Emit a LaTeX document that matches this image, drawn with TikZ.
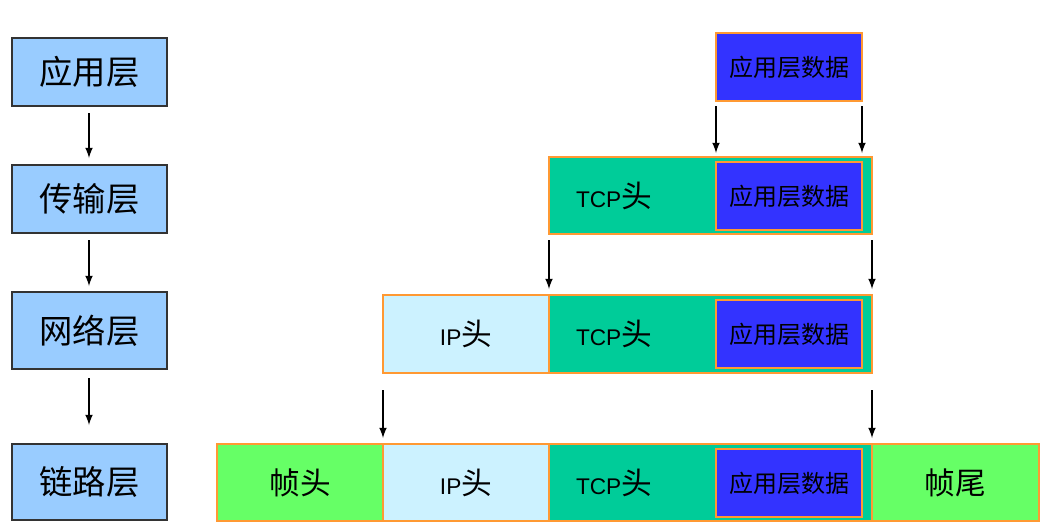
\documentclass[tikz,border=0pt]{standalone}
\usepackage{fontspec}
\setmainfont{Liberation Sans}
\newfontfamily\cjk{Noto Sans CJK SC}
\begin{document}
\begin{tikzpicture}[x=0.75pt,y=-0.75pt,
  layer/.style={draw=black!80,fill={rgb,255:red,153;green,204;blue,255},line width=0.8pt,font=\cjk\fontsize{25}{27}\selectfont},
  seg/.style={draw={rgb,255:red,255;green,153;blue,51},line width=0.8pt,font=\fontsize{17}{20}\selectfont},
  arr/.style={-latex,line width=1.6pt}]
\useasboundingbox (0,0) rectangle (1058,529);
\definecolor{appb}{RGB}{51,51,255}
\definecolor{tcpg}{RGB}{0,204,153}
\definecolor{ipc}{RGB}{204,242,255}
\definecolor{frg}{RGB}{102,255,102}
% left layers
\node[layer,minimum width=155*0.75pt,minimum height=68*0.75pt] (L1) at (89.5,72) {应用层};
\node[layer,minimum width=155*0.75pt,minimum height=68*0.75pt] (L2) at (89.5,199) {传输层};
\node[layer,minimum width=155*0.75pt,minimum height=77*0.75pt] (L3) at (89.5,330.5) {网络层};
\node[layer,minimum width=155*0.75pt,minimum height=76*0.75pt] (L4) at (89.5,482) {链路层};
\draw[arr] (89,113) -- (89,158);
\draw[arr] (89,240) -- (89,286);
\draw[arr] (89,378) -- (89,425);
% row 1
\node[seg,fill=appb,minimum width=146*0.75pt,minimum height=68*0.75pt,font=\cjk\fontsize{18}{20}\selectfont] (A1) at (789,67) {应用层数据};
% row 2
\node[seg,fill=tcpg,minimum width=323*0.75pt,minimum height=77*0.75pt] (T2) at (710.5,195.5) {};
\node[seg,fill=appb,minimum width=146*0.75pt,minimum height=68*0.75pt,font=\cjk\fontsize{18}{20}\selectfont] (A2) at (789,196) {应用层数据};
\node at (614,196) {\fontsize{17}{20}\selectfont TCP\cjk\fontsize{23}{25}\selectfont 头};
% row 3
\node[seg,fill=ipc,minimum width=166*0.75pt,minimum height=78*0.75pt] (I3) at (466,334) {};
\node[seg,fill=tcpg,minimum width=323*0.75pt,minimum height=78*0.75pt] (T3) at (710.5,334) {};
\node[seg,fill=appb,minimum width=146*0.75pt,minimum height=68*0.75pt,font=\cjk\fontsize{18}{20}\selectfont] (A3) at (789,334) {应用层数据};
\node at (466,334) {\fontsize{17}{20}\selectfont IP\cjk\fontsize{23}{25}\selectfont 头};
\node at (614,334) {\fontsize{17}{20}\selectfont TCP\cjk\fontsize{23}{25}\selectfont 头};
% row 4
\node[seg,fill=frg,minimum width=166*0.75pt,minimum height=77*0.75pt,font=\cjk\fontsize{23}{25}\selectfont] (F4) at (300,482.5) {帧头};
\node[seg,fill=ipc,minimum width=166*0.75pt,minimum height=77*0.75pt] (I4) at (466,482.5) {};
\node[seg,fill=tcpg,minimum width=323*0.75pt,minimum height=77*0.75pt] (T4) at (710.5,482.5) {};
\node[seg,fill=appb,minimum width=146*0.75pt,minimum height=68*0.75pt,font=\cjk\fontsize{18}{20}\selectfont] (A4) at (789,483) {应用层数据};
\node[seg,fill=frg,minimum width=167*0.75pt,minimum height=77*0.75pt,font=\cjk\fontsize{23}{25}\selectfont] (E4) at (955.5,482.5) {帧尾};
\node at (466,483) {\fontsize{17}{20}\selectfont IP\cjk\fontsize{23}{25}\selectfont 头};
\node at (614,483) {\fontsize{17}{20}\selectfont TCP\cjk\fontsize{23}{25}\selectfont 头};
% arrows
\draw[arr] (716,106) -- (716,153);
\draw[arr] (862,106) -- (862,153);
\draw[arr] (549,240) -- (549,289);
\draw[arr] (872,240) -- (872,289);
\draw[arr] (383,390) -- (383,438);
\draw[arr] (872,390) -- (872,438);
\end{tikzpicture}
\end{document}
